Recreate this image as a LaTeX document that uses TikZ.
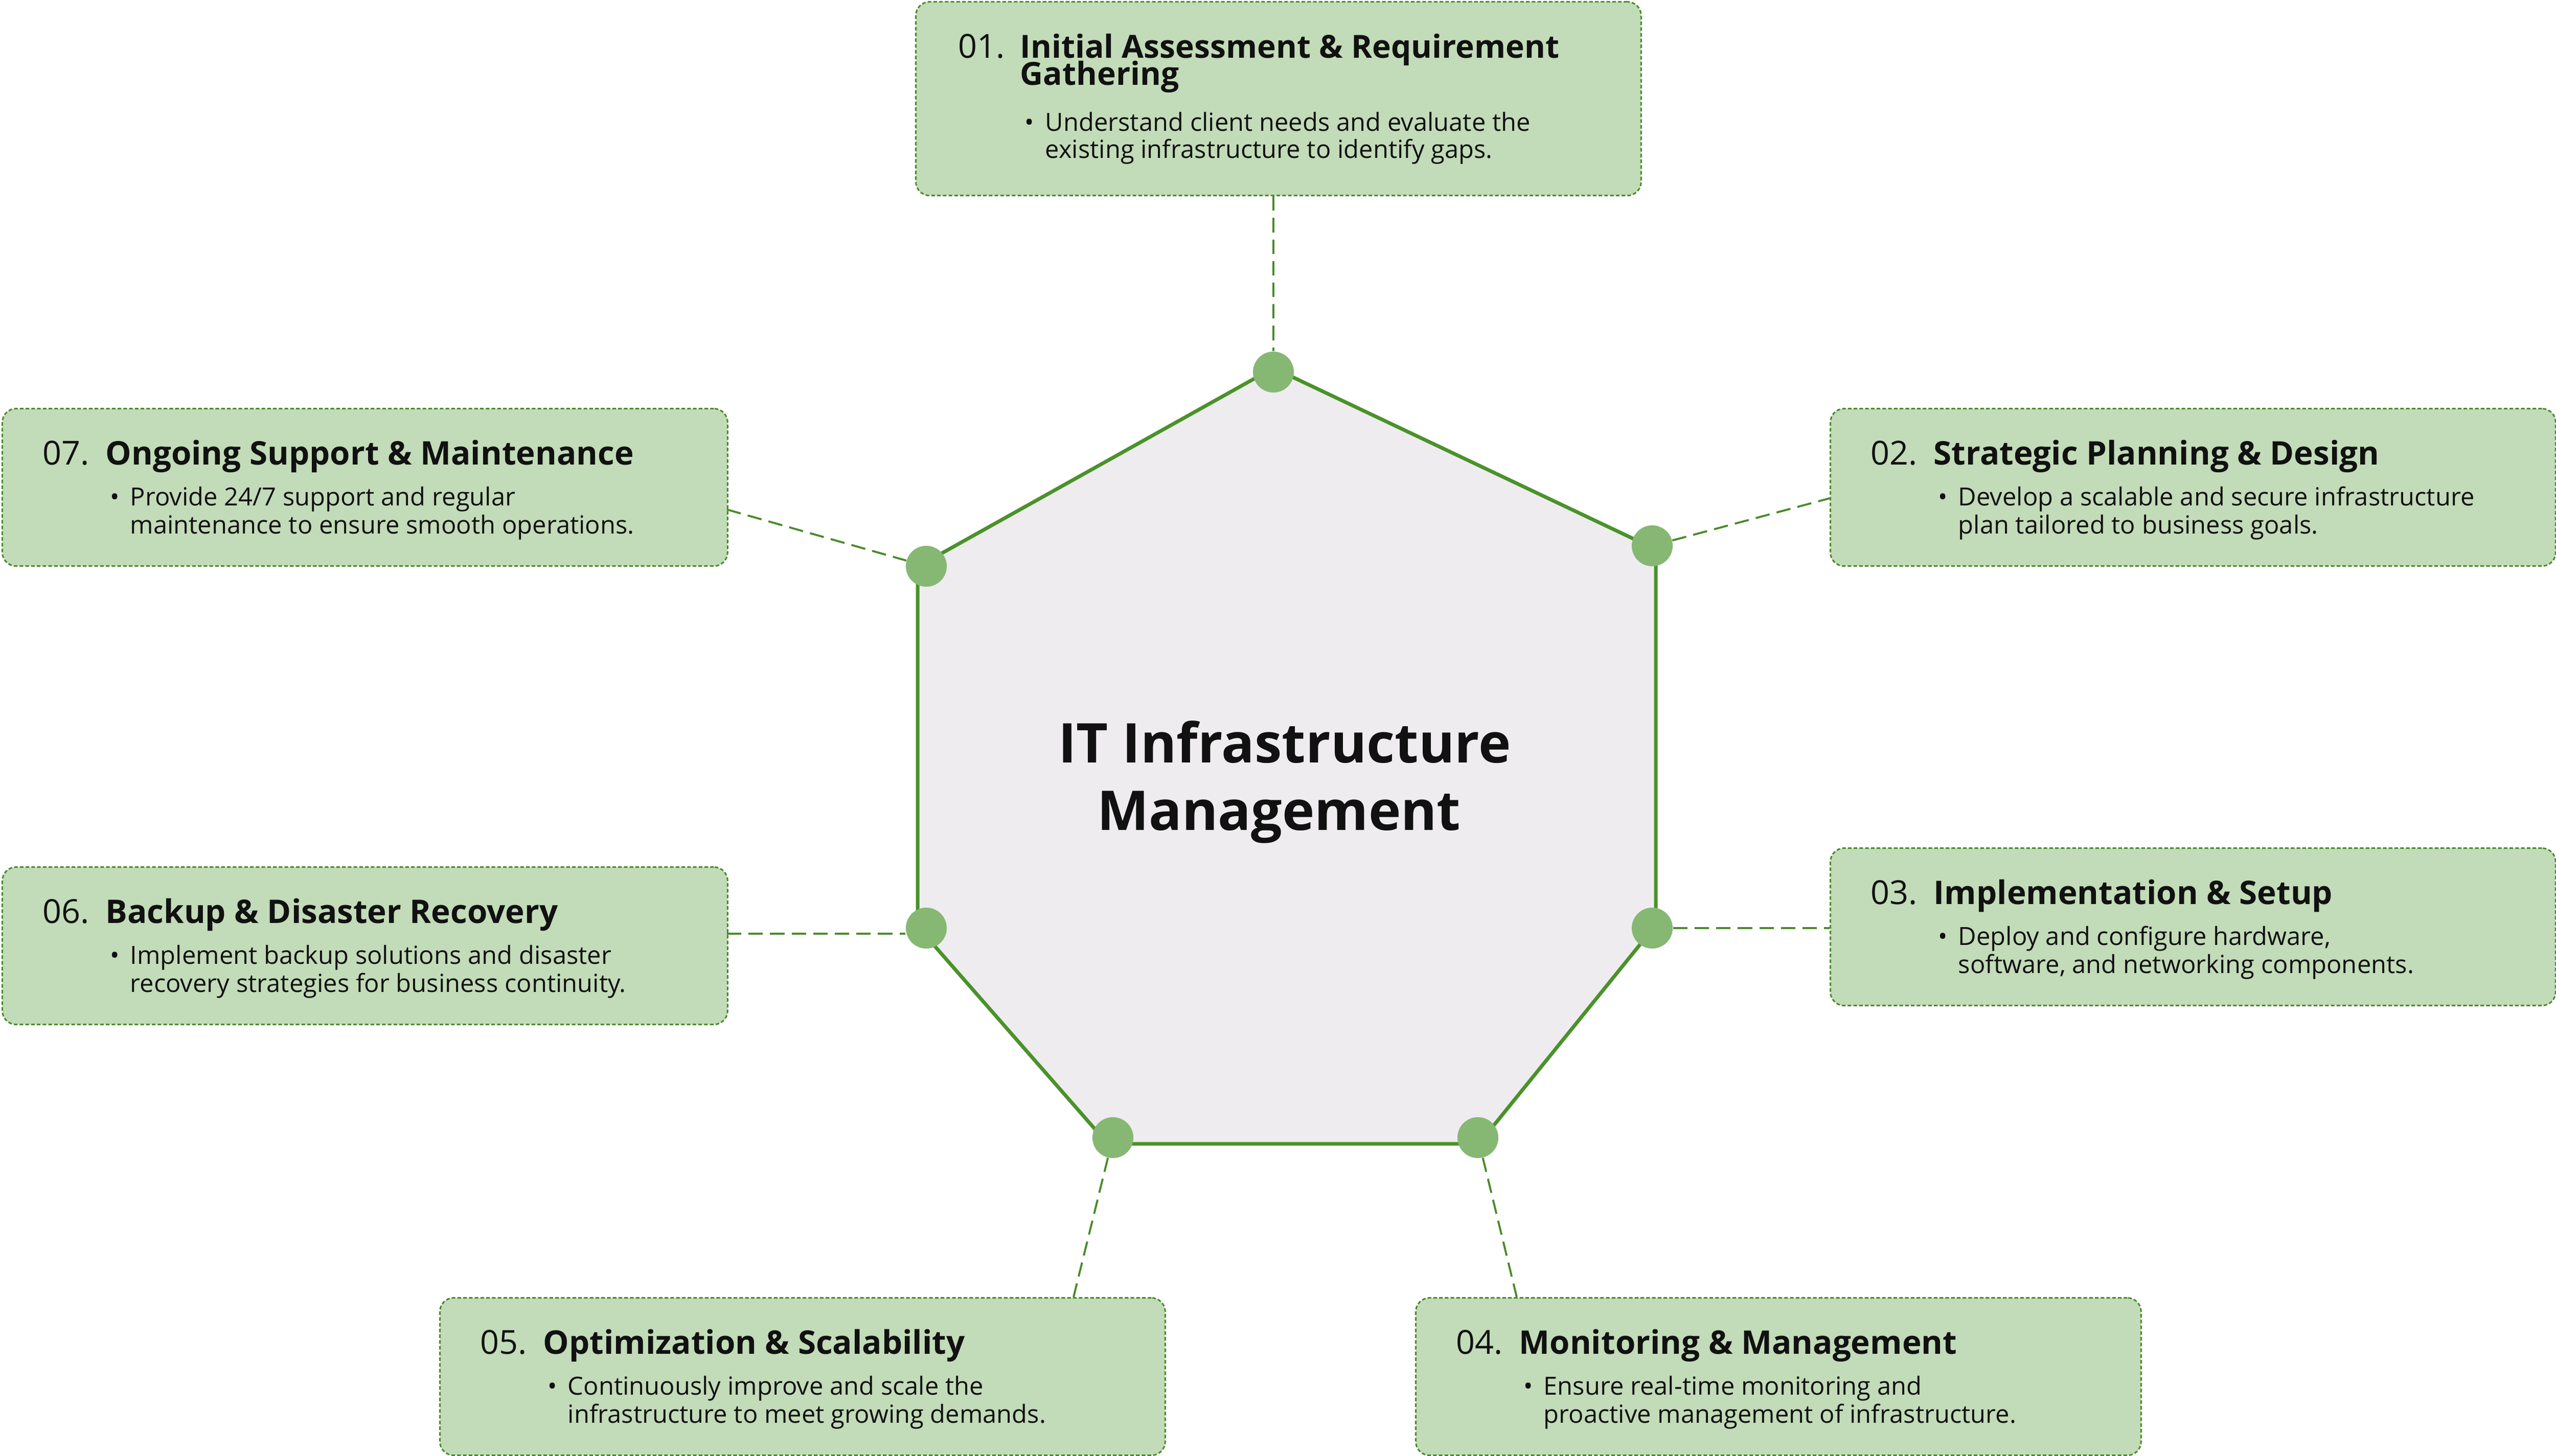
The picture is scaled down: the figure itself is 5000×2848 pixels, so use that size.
\documentclass[tikz,border=0pt]{standalone}
\usepackage{fontspec}
\setmainfont{Open Sans}
\usetikzlibrary{calc}
\definecolor{boxfill}{HTML}{C2DBB8}
\definecolor{boxline}{HTML}{4A8A2A}
\definecolor{polyline}{HTML}{4A922A}
\definecolor{polyfill}{HTML}{EEECEF}
\definecolor{dotgreen}{HTML}{86B874}
\definecolor{txt}{HTML}{111111}
\tikzset{
  itbox/.style={draw=boxline, fill=boxfill, line width=0.85pt, dash pattern=on 2pt off 1.2pt,
    rounded corners=0.27cm, minimum width=14.18cm, anchor=north west, inner sep=0},
  conn/.style={draw=boxline, line width=1.1pt, dash pattern=on 8pt off 4pt},
  dotnode/.style={circle, fill=dotgreen, minimum size=0.8cm, inner sep=0},
  numtxt/.style={inner sep=0, anchor=base west, text=txt, font=\fontsize{18.4pt}{22pt}\selectfont},
  headtxt/.style={inner sep=0, anchor=base west, text=txt, font=\fontsize{18.1pt}{22pt}\selectfont\bfseries},
  bodytxt/.style={inner sep=0, anchor=base west, text=txt, font=\fontsize{13.9pt}{16pt}\selectfont},
  centertxt/.style={inner sep=0, anchor=base, text=txt, font=\fontsize{30.5pt}{38pt}\selectfont\bfseries},
}
\newcommand\itstep[8]{%
  \node[itbox, minimum height=3.08cm] (#1) at (#2,#3) {};
  \node[numtxt] (#1n) at ({#2+80},{#3+111}) {#5};
  \node[headtxt] (#1h) at ({#2+203},{#3+111}) {#6};
  \node[bodytxt] (#1b) at ({#2+212},{#3+191}) {•};
  \node[bodytxt] (#1l) at ({#2+251},{#3+191}) {#7};
  \node[bodytxt] (#1m) at ({#2+251},{#3+246}) {#8};
}
\begin{document}
\begin{tikzpicture}[x=0.01cm,y=-0.01cm]
\useasboundingbox (0,0) rectangle (5000,2848);
\fill[white] (0,0) rectangle (5000,2848);
% heptagon
\coordinate (p1) at (2491,720);
\coordinate (p2) at (3239,1075);
\coordinate (p3) at (3239,1810);
\coordinate (p4) at (2893,2238);
\coordinate (p5) at (2167,2238);
\coordinate (p6) at (1795,1813);
\coordinate (p7) at (1795,1109);
\draw[polyline, fill=polyfill, line width=2pt, line join=round] (p1) -- (p2) -- (p3) -- (p4) -- (p5) -- (p6) -- (p7) -- cycle;
\node[centertxt] (t1) at (2513,1492) {IT Infrastructure};
\node[centertxt] (t2) at (2502,1624) {Management};
% dots
\node[dotnode] (d1) at (2491,728) {};
\node[dotnode] (d2) at (3232,1068) {};
\node[dotnode] (d3) at (3232,1816) {};
\node[dotnode] (d4) at (2891,2226) {};
\node[dotnode] (d5) at (2177,2226) {};
\node[dotnode] (d6) at (1812,1816) {};
\node[dotnode] (d7) at (1812,1108) {};
% box 1
\node[itbox, minimum height=3.79cm] (b1) at (1790,2) {};
\node[numtxt] (b1n) at (1874,113) {01.};
\node[headtxt, font=\fontsize{17.7pt}{22pt}\selectfont\bfseries] (b1h) at (1995,113) {Initial Assessment \& Requirement};
\node[headtxt, font=\fontsize{17.7pt}{22pt}\selectfont\bfseries] (b1g) at (1995,166) {Gathering};
\node[bodytxt] (b1b) at (2004,256) {•};
\node[bodytxt] (b1l) at (2044,256) {Understand client needs and evaluate the};
\node[bodytxt] (b1m) at (2044,309) {existing infrastructure to identify gaps.};
% other boxes
\itstep{b2}{3579}{798}{3.08}{02.}{Strategic Planning \& Design}{Develop a scalable and secure infrastructure}{plan tailored to business goals.}
\itstep{b3}{3579}{1658}{3.08}{03.}{Implementation \& Setup}{Deploy and configure hardware,}{software, and networking components.}
\itstep{b4}{2768}{2538}{3.08}{04.}{Monitoring \& Management}{Ensure real-time monitoring and}{proactive management of infrastructure.}
\itstep{b5}{859}{2538}{3.08}{05.}{Optimization \& Scalability}{Continuously improve and scale the}{infrastructure to meet growing demands.}
\itstep{b6}{3}{1695}{3.08}{06.}{Backup \& Disaster Recovery}{Implement backup solutions and disaster}{recovery strategies for business continuity.}
\itstep{b7}{3}{798}{3.08}{07.}{Ongoing Support \& Maintenance}{Provide 24/7 support and regular}{maintenance to ensure smooth operations.}
% connectors
\coordinate (c2) at (3579,975);
\coordinate (c4) at (2967,2538);
\coordinate (c5) at (2100,2538);
\coordinate (c6) at (1422,1827);
\coordinate (c7) at (1422,997);
\draw[conn] (d1 |- b1.south) -- (d1.north);
\draw[conn] (d2) -- (c2);
\draw[conn] (d3.east) -- (d3 -| b3.west);
\draw[conn] (d4) -- (c4);
\draw[conn] (d5) -- (c5);
\draw[conn] (c6) -- (c6 -| d6.west);
\draw[conn] (c7) -- (d7);
\end{tikzpicture}
\end{document}
